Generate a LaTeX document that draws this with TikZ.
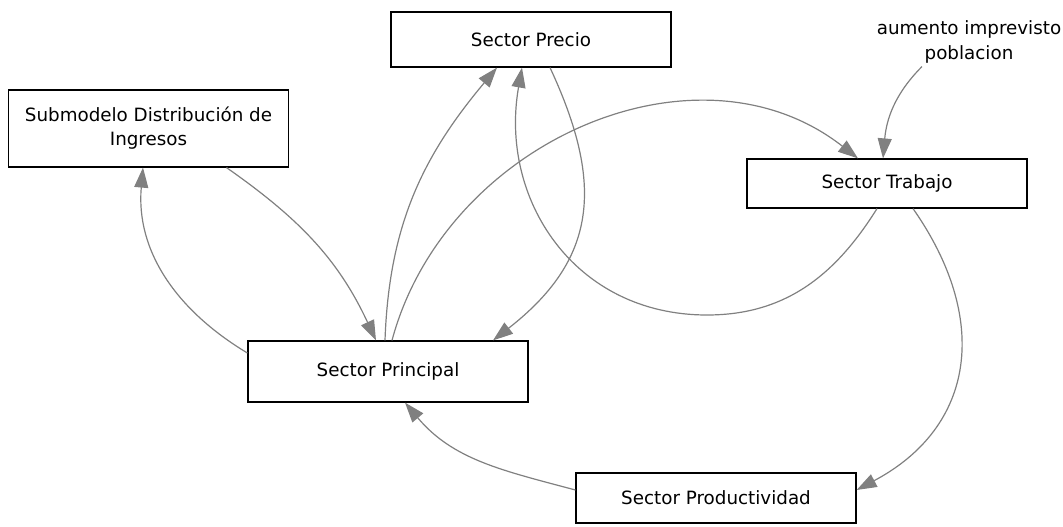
\documentclass[tikz,border=0pt]{standalone}
\usepackage{fontspec}
\setmainfont{DejaVu Sans}
\usetikzlibrary{arrows.meta}

\tikzset{
  sector/.style={draw=black, line width=1.2pt, minimum width=280pt, inner sep=0pt,
                 align=center, font=\fontsize{18.3}{24}\selectfont},
  link/.style={draw=gray, line width=1.2pt, -{Triangle[length=20pt,width=14pt]}}
}

\begin{document}
\begin{tikzpicture}[x=1pt,y=-1pt]
\useasboundingbox (0,0) rectangle (1063,527);
% sectors
\node[sector, minimum height=55pt] (precio)    at (531,39.5)  {Sector Precio};
\node[sector, minimum height=77pt] (submodelo) at (148.5,128.5) {Submodelo Distribución de\\Ingresos};
\node[sector, minimum height=49pt] (trabajo)   at (887,183.5) {Sector Trabajo};
\node[sector, minimum height=61pt] (principal) at (388,371.5) {Sector Principal};
\node[sector, minimum height=50pt] (productividad) at (716,498) {Sector Productividad};
% exogenous input
\node[align=center, inner sep=0pt, font=\fontsize{18.3}{25}\selectfont] (aumento) at (969,42)
     {aumento imprevisto\\poblacion};
\coordinate (lazo) at (707,315);
% links
\draw[link] ([xshift=78pt]submodelo.south) to[out=-35,in=115] ([xshift=-12pt]principal.north);
\draw[link] ([yshift=18.5pt]principal.west) to[out=149,in=-95] ([xshift=-5.5pt]submodelo.south);
\draw[link] ([xshift=-3pt]principal.north) to[out=88,in=-130] ([xshift=-34pt]precio.south);
\draw[link] ([xshift=-10pt]trabajo.south) to[out=-122,in=0] (lazo)
            to[out=180,in=-100,looseness=1.1] ([xshift=-9pt]precio.south);
\draw[link] ([xshift=19pt]precio.south) to[out=-65,in=38,looseness=1.2] ([xshift=105pt]principal.north);
\draw[link] ([xshift=4pt]principal.north) to[out=75,in=142,looseness=1.05] ([xshift=-29pt]trabajo.north);
\draw[link] ([xshift=-47pt,yshift=-3pt]aumento.south) to[out=-135,in=85] ([xshift=-4pt]trabajo.north);
\draw[link] ([xshift=26pt]trabajo.south) to[out=-55,in=28,looseness=1.2] ([yshift=8pt]productividad.east);
\draw[link] ([yshift=8pt]productividad.west) to[out=165,in=-50] ([xshift=17pt]principal.south);
\end{tikzpicture}
\end{document}
